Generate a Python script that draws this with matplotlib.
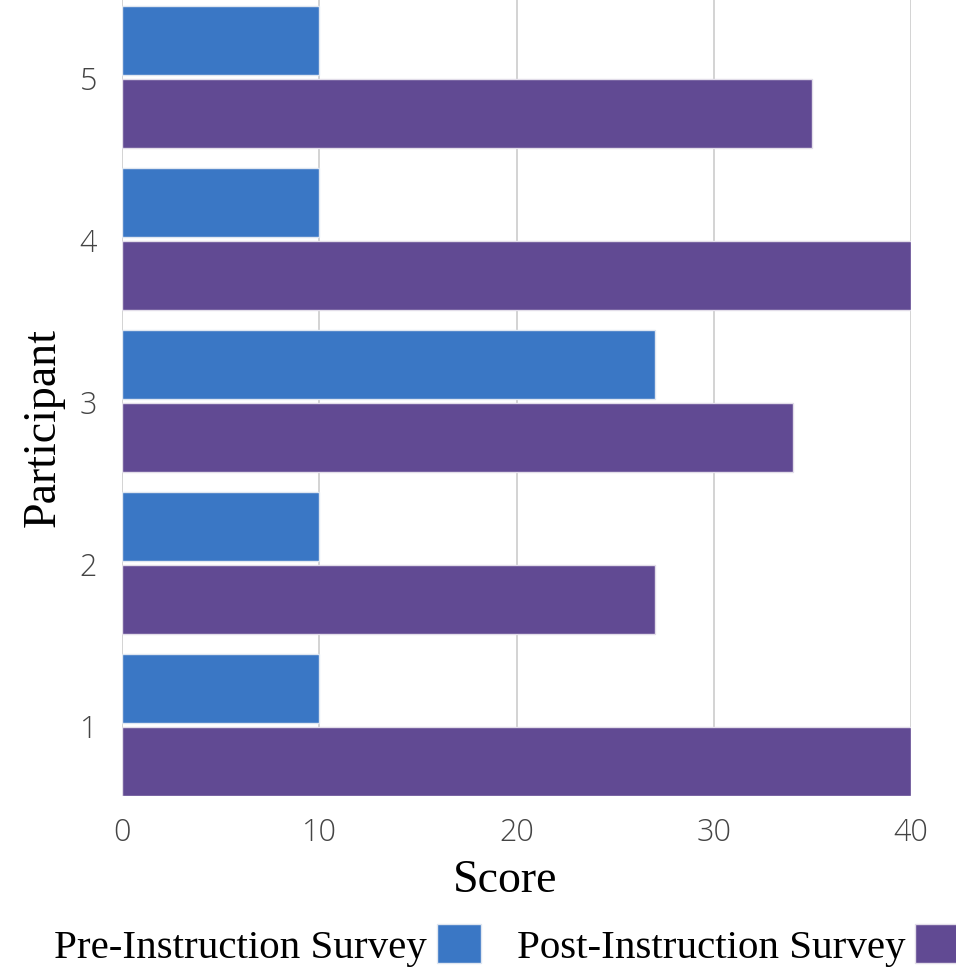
import numpy as np
import matplotlib
matplotlib.use('Agg')
import matplotlib.pyplot as plt

# Survey scores per participant
participants = ['1', '2', '3', '4', '5']
pre_scores = [10, 10, 27, 10, 10]
post_scores = [40, 27, 34, 40, 35]
x_ticks = [0, 10, 20, 30, 40]

pre_color = '#3a77c5'
post_color = '#614a93'

fig = plt.figure(figsize=(9.56, 9.70), dpi=100)
ax = fig.add_axes([0.1276, 0.178, 0.8254, 0.822])

y = np.arange(1, len(participants) + 1)
h = 0.425
off = 0.225
ax.barh(y + off, pre_scores, height=h, color=pre_color, edgecolor='#dfe6f0',
        linewidth=1, label='Pre-Instruction Survey', zorder=3)
ax.barh(y - off, post_scores, height=h, color=post_color, edgecolor='#e2dde9',
        linewidth=1, label='Post-Instruction Survey', zorder=3)

ax.set_xlim(0, 40)
ax.set_ylim(0.56, 5.48)
ax.set_xticks(x_ticks)
ax.set_yticks(y)
ax.set_yticklabels(participants)
ax.grid(axis='x', color='#cccccc', linewidth=1.2, zorder=0)
ax.grid(axis='y', visible=False)
for s in ax.spines.values():
    s.set_visible(False)
ax.tick_params(length=0, labelsize=22, labelcolor='#444444')
ax.tick_params(axis='x', pad=14)
ax.tick_params(axis='y', pad=18)
for lab in ax.get_xticklabels() + ax.get_yticklabels():
    lab.set_family('Open Sans')
    lab.set_fontweight('light')

ax.set_xlabel('Score', family='Liberation Serif', fontsize=33, va='center')
ax.xaxis.set_label_coords(0.485, -0.104)
ax.set_ylabel('Participant', family='Liberation Serif', fontsize=33,
              va='center', ha='center')
ax.yaxis.set_label_coords(-0.1, 0.464)

fig.legend(loc='lower center', bbox_to_anchor=(0.53, -0.014), ncol=2,
           frameon=False, markerfirst=False, handlelength=1.07, handleheight=1.1,
           handletextpad=0.24, columnspacing=0.88, borderaxespad=0,
           prop={'family': 'Liberation Serif', 'size': 29.5})

fig.savefig('out.png', dpi=100)
